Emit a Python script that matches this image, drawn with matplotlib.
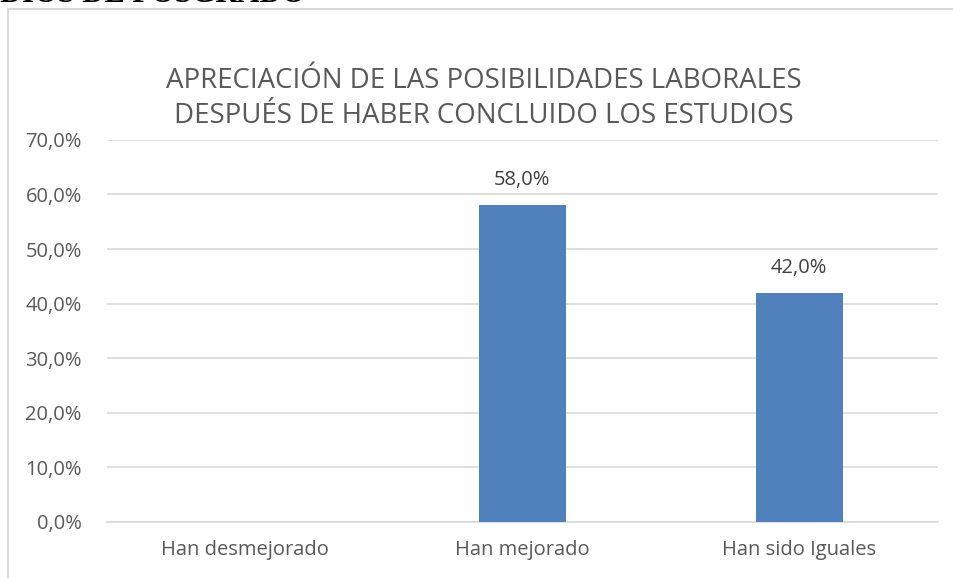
import matplotlib
matplotlib.use('Agg')
import matplotlib.pyplot as plt
from matplotlib.patches import Rectangle

categorias = ['Han desmejorado', 'Han mejorado', 'Han sido Iguales']
valores = [0.0, 58.0, 42.0]
ticks_y = [0, 10, 20, 30, 40, 50, 60, 70]
titulo = 'APRECIACIÓN DE LAS POSIBILIDADES LABORALES\nDESPUÉS DE HABER CONCLUIDO LOS ESTUDIOS'

gris = '#595959'
plt.rcParams['font.family'] = ['Open Sans', 'DejaVu Sans']

fig = plt.figure(figsize=(9.54, 5.78), dpi=100)
ax = fig.add_axes([0.112, 0.097, 0.871, 0.661])

x = range(len(categorias))
ax.bar(x, valores, width=0.313, color='#4F81BD', zorder=3)
for xi, v in zip(x, valores):
    if v > 0:
        ax.text(xi, v + 4.6, f'{v:.1f}%'.replace('.', ','), ha='center', va='center',
                fontsize=14.5, color='#404040')

ax.set_xlim(-0.5, 2.5)
ax.set_ylim(0, 70)
ax.set_yticks(ticks_y)
ax.set_yticklabels([f'{t:.1f}%'.replace('.', ',') for t in ticks_y])
ax.set_xticks(list(x))
ax.set_xticklabels(categorias)
ax.tick_params(axis='both', length=0, labelsize=14.5, labelcolor=gris)
ax.tick_params(axis='y', pad=18)
ax.tick_params(axis='x', pad=13)
ax.grid(axis='y', color='#D9D9D9', linewidth=1.2, zorder=0)
for s in ['top', 'right', 'left']:
    ax.spines[s].set_visible(False)
ax.spines['bottom'].set_color('#D9D9D9')
ax.spines['bottom'].set_linewidth(1.2)

fig.text(0.507, 0.829, titulo, ha='center', va='center', fontsize=19.9,
         color=gris, linespacing=1.33)

# borde del gráfico (recortado a la derecha y abajo)
fig.patches.append(Rectangle((8.5 / 954, -0.1), 1.2, 1 - 9 / 578 + 0.1,
                             transform=fig.transFigure, fill=False,
                             edgecolor='#D9D9D9', linewidth=1.5))
# texto del documento cortado arriba
fig.text(0.0, 0.996, 'DIOS DE POSGRADO', ha='left', va='baseline', fontsize=22,
         fontweight='bold', family='Liberation Serif', color='black')

fig.savefig('out.png', dpi=100)
